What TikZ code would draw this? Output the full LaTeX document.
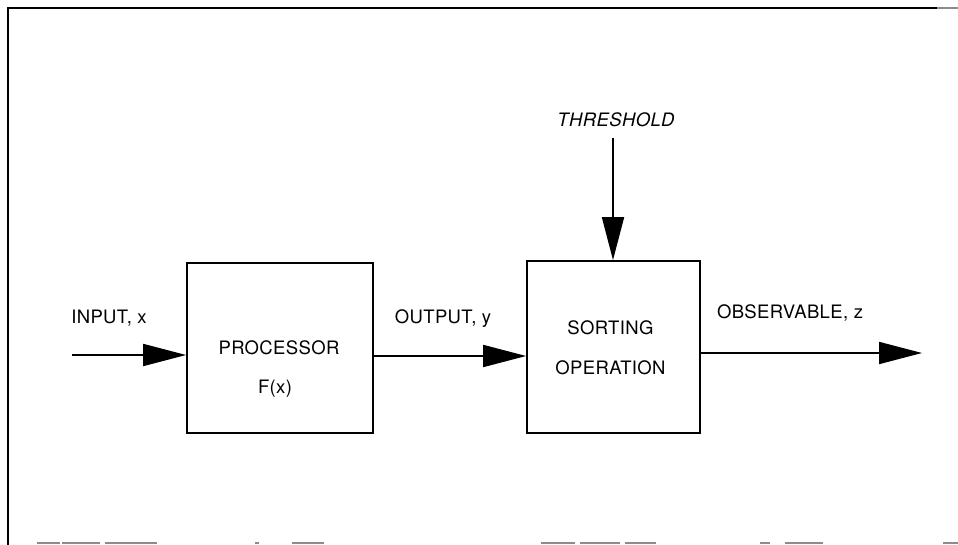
\documentclass[tikz,border=0pt]{standalone}
\usepackage{fontspec}
\setmainfont{TeX Gyre Heros}[LetterSpace=2]
\usetikzlibrary{arrows.meta}
\begin{document}
\begin{tikzpicture}[x=1pt,y=-1pt,
  line width=1.8pt,
  blockbox/.style={draw,line width=1.8pt},
  lbl/.style={anchor=base,inner sep=0pt,font=\fontsize{18.5}{20}\selectfont},
  flow/.style={line width=1.8pt,-{Triangle[length=43pt,width=22pt]}},
  scan/.style={draw=black!45,line width=1.5pt}]
\useasboundingbox (0,0) rectangle (958,545);
% frame
\draw[line width=2pt] (8,545) -- (8,8) -- (937,8);
\draw[scan] (937,8) -- (958,8);
\foreach \a/\b in {37/60,62/100,105/157,255/259,292/324,541/575,580/620,625/656,760/770,785/823,943/958}
  \draw[scan] (\a,543) -- (\b,543);
% blocks
\node[blockbox,minimum width=186pt,minimum height=170pt,inner sep=0pt] (proc) at (280,348) {};
\node[blockbox,minimum width=173pt,minimum height=172pt,inner sep=0pt] (sort) at (613.5,347) {};
% texts
\node[lbl] (procA) at (279,354) {PROCESSOR};
\node[lbl] (procB) at (275,393) {F(x)};
\node[lbl] (sortA) at (610.5,334) {SORTING};
\node[lbl] (sortB) at (610.5,374) {OPERATION};
\node[lbl] (inlbl) at (109,323) {INPUT, x};
\node[lbl] (outlbl) at (443,323) {OUTPUT, y};
\node[lbl] (obslbl) at (790,318) {OBSERVABLE, z};
\node[lbl,font=\fontsize{18.5}{20}\selectfont\itshape] (thr) at (616,127) {THRESHOLD};
% connectors
\coordinate (src) at (72,355);
\coordinate (sink) at (922,353);
\coordinate (thrtop) at (613,138);
\draw[flow] (src) -- (proc.west |- src);
\draw[flow] (proc.east |- 0,356) -- (sort.west |- 0,356);
\draw[flow] (sort.east |- sink) -- (sink);
\draw[flow] (thrtop) -- (thrtop |- sort.north);
\end{tikzpicture}
\end{document}
